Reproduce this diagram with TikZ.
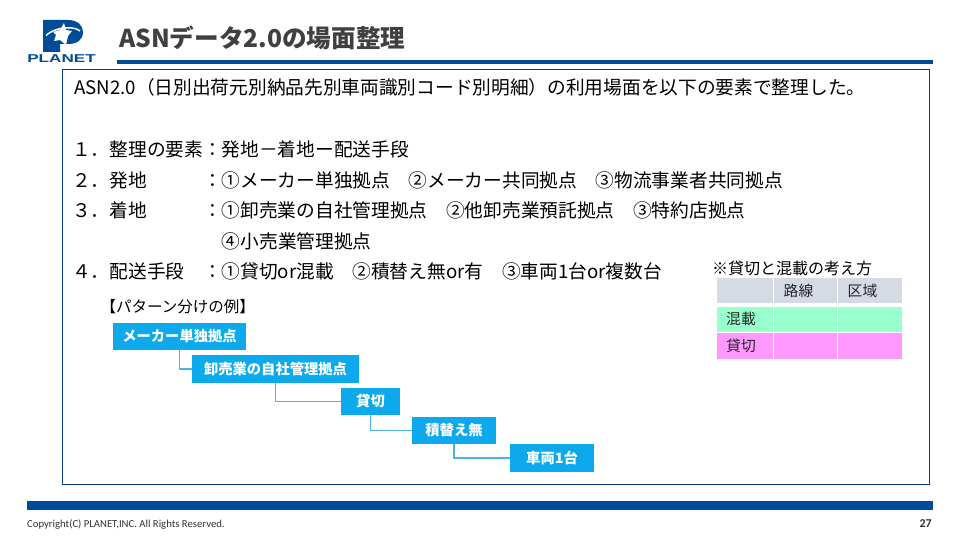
\documentclass[tikz,border=0pt]{standalone}
\usepackage{fontspec}
\setmainfont{Noto Sans CJK JP}
\newfontfamily\footfont{Carlito}
\newfontfamily\logofont{Liberation Sans}
\usetikzlibrary{positioning,calc}
\definecolor{framecolor}{RGB}{0,62,128}
\definecolor{barcolor}{RGB}{0,76,153}
\definecolor{titlecolor}{RGB}{64,64,64}
\definecolor{stepcolor}{RGB}{12,170,236}
\definecolor{linkcolor}{RGB}{80,180,225}
\definecolor{headcolor}{RGB}{213,218,229}
\definecolor{greencolor}{RGB}{153,255,204}
\definecolor{pinkcolor}{RGB}{255,153,255}

\begin{document}
\begin{tikzpicture}[
  x=1pt,y=1pt,
  line/.style={
    anchor=base west,
    inner sep=0pt,
    font=\fontsize{18.7pt}{22pt}\selectfont
  },
  stepbox/.style={
    rectangle,
    fill=stepcolor,
    text=white,
    inner sep=0pt,
    font=\fontsize{14.3pt}{16pt}\selectfont\bfseries
  },
  link/.style={
    draw=linkcolor,
    line width=1.1pt
  },
  cell/.style={
    rectangle,
    inner sep=0pt,
    text=black!85,
    font=\fontsize{14.8pt}{16pt}\selectfont
  }
]
\useasboundingbox (0,0) rectangle (960,-540);
\fill[white] (0,0) rectangle (960,-540);

% header
\fill[barcolor] (43,-20) -- (68,-20) .. controls (78,-20) and (83,-26) .. (83,-32)
  .. controls (83,-40) and (77,-44) .. (68,-44) -- (60,-44) -- (60,-52) -- (43,-52) -- cycle;
\fill[white] (64,-23) -- (66,-30) -- (72,-31) -- (68,-36) -- (66,-45) -- (60,-40)
  -- (54,-41) -- (56,-35) -- (53,-32) -- (60,-30) -- cycle;
\draw[white,line width=1.5pt] (46,-35.5) .. controls (52,-30) and (62,-27) .. (72,-28)
  .. controls (76,-28.5) and (79,-30) .. (80,-31);
\node[anchor=base,inner sep=0pt,text=barcolor,transform shape,xscale=1.5,
  font=\logofont\fontsize{11.4pt}{12pt}\selectfont\bfseries]
  (logotext) at (61.5,-62.7) {PLANET};
\node[anchor=base west,inner sep=0pt,text=titlecolor,font=\fontsize{24.6pt}{28pt}\selectfont\bfseries]
  (title) at (119,-47.5) {ASNデータ2.0の場面整理};
\fill[barcolor] (117,-60.5) rectangle (933,-64);

% frame
\draw[framecolor,line width=0.8pt] (62.5,-69.5) rectangle (929.5,-484);

% main text
\node[line] (intro) at (74,-95) {ASN2.0（日別出荷元別納品先別車両識別コード別明細）の利用場面を以下の要素で整理した。};
\node[line] (item1) at (72,-157) {１．整理の要素：発地－着地ー配送手段};
\node[line] (item2) at (72,-187) {２．発地　　　：①メーカー単独拠点　②メーカー共同拠点　③物流事業者共同拠点};
\node[line] (item3) at (72,-217) {３．着地　　　：①卸売業の自社管理拠点　②他卸売業預託拠点　③特約店拠点};
\node[line] (item3b) at (221.7,-248) {④小売業管理拠点};
\node[line] (item4) at (72,-278) {４．配送手段　：①貸切or混載　②積替え無or有　③車両1台or複数台};
\node[anchor=base west,inner sep=0pt,font=\fontsize{15.5pt}{18pt}\selectfont] (pattern) at (100.5,-312) {【パターン分けの例】};

% pattern steps
\node[stepbox,minimum width=133pt,minimum height=27pt] (maker) at (179.5,-336.5) {メーカー単独拠点};
\node[stepbox,minimum width=167pt,minimum height=28pt] (depot) at (275.5,-369) {卸売業の自社管理拠点};
\node[stepbox,minimum width=59pt,minimum height=27pt] (charter) at (370.5,-401.5) {貸切};
\node[stepbox,minimum width=84pt,minimum height=27pt] (transfer) at (454,-430.5) {積替え無};
\node[stepbox,minimum width=84pt,minimum height=28pt] (vehicle) at (552,-458) {車両1台};

\draw[link] (maker.south) |- (depot.west);
\draw[link] (depot.south) |- (charter.west);
\draw[link] (charter.south) |- (transfer.west);
\draw[link] (transfer.south) |- (vehicle.west);

% table
\node[anchor=base west,inner sep=0pt,font=\fontsize{16pt}{18pt}\selectfont] (note) at (712,-274) {※貸切と混載の考え方};
\node[cell,fill=headcolor,minimum width=56pt,minimum height=25pt] (h0) at (745,-290.5) {};
\node[cell,fill=headcolor,minimum width=63pt,minimum height=25pt] (h1) at (805.5,-290.5) {\hspace*{-14pt}路線};
\node[cell,fill=headcolor,minimum width=64pt,minimum height=25pt] (h2) at (870,-290.5) {\hspace*{-15pt}区域};
\node[cell,fill=greencolor,minimum width=56pt,minimum height=25pt] (g0) at (745,-319.5) {\hspace*{-8pt}\raisebox{2pt}{混載}};
\node[cell,fill=greencolor,minimum width=63pt,minimum height=25pt] (g1) at (805.5,-319.5) {};
\node[cell,fill=greencolor,minimum width=64pt,minimum height=25pt] (g2) at (870,-319.5) {};
\node[cell,fill=pinkcolor,minimum width=56pt,minimum height=26pt] (p0) at (745,-346) {\hspace*{-8pt}\raisebox{2pt}{貸切}};
\node[cell,fill=pinkcolor,minimum width=63pt,minimum height=26pt] (p1) at (805.5,-346) {};
\node[cell,fill=pinkcolor,minimum width=64pt,minimum height=26pt] (p2) at (870,-346) {};

% footer
\fill[barcolor] (27,-501) rectangle (933,-510);
\node[anchor=base west,inner sep=0pt,text=black!80,font=\footfont\fontsize{10.7pt}{12pt}\selectfont]
  (copy) at (27,-527) {Copyright(C) PLANET,INC. All Rights Reserved.};
\node[anchor=base east,inner sep=0pt,text=black!80,font=\footfont\fontsize{12pt}{13pt}\selectfont\bfseries]
  (page) at (932,-527.5) {27};
\end{tikzpicture}
\end{document}
